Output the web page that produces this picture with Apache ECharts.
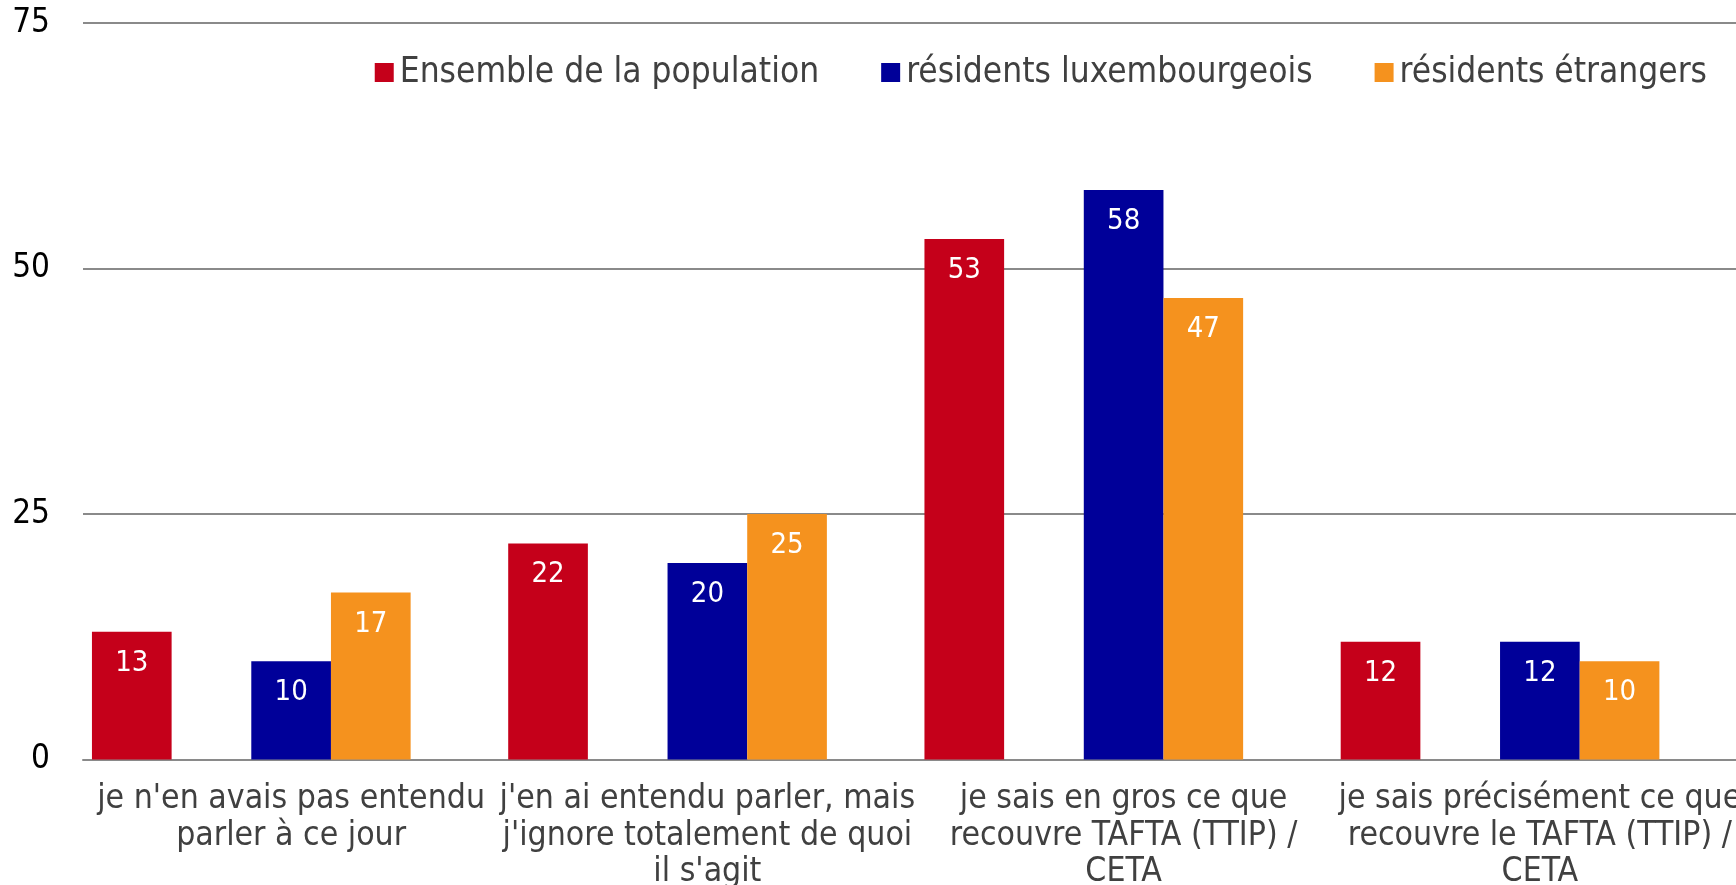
<!DOCTYPE html>
<html>
<head>
<meta charset="utf-8">
<script src="https://cdn.jsdelivr.net/npm/echarts@6/dist/echarts.min.js"></script>
<style>
html,body{margin:0;padding:0;background:#fff;}
#chart{width:1736px;height:885px;}
</style>
</head>
<body>
<div id="chart"></div>
<script>
const categories = [
  "je n'en avais pas entendu\nparler à ce jour",
  "j'en ai entendu parler, mais\nj'ignore totalement de quoi\nil s'agit",
  "je sais en gros ce que\nrecouvre TAFTA (TTIP) /\nCETA",
  "je sais précisément ce que\nrecouvre le TAFTA (TTIP) /\nCETA"
];
const seriesNames = ["Ensemble de la population", "résidents luxembourgeois", "résidents étrangers"];
const ensemble = [13, 22, 53, 12];
const luxembourgeois = [10, 20, 58, 12];
const etrangers = [17, 25, 47, 10];
const yTicks = [0, 25, 50, 75];

const FONT = "'DejaVu Sans Condensed', 'Noto Sans', sans-serif";
const colors = ['#C5001A', '#000099', '#F5921E'];

function barSeries(name, data, color) {
  return {
    name: name,
    type: 'bar',
    data: data,
    barGap: '0%',
    barCategoryGap: '4.3%',
    itemStyle: { color: color },
    label: {
      show: true,
      position: 'insideTop',
      distance: 17,
      color: '#fff',
      fontSize: 29,
      fontFamily: FONT
    }
  };
}
function spacer(name) {
  return {
    name: name,
    type: 'bar',
    data: categories.map(() => null),
    barGap: '0%',
    barCategoryGap: '4.3%',
    silent: true
  };
}

const chart = echarts.init(document.getElementById('chart'));
chart.setOption({
  animation: false,
  backgroundColor: '#fff',
  color: colors,
  grid: { left: 83, top: 23, width: 1665, height: 736.5, containLabel: false, outerBoundsMode: 'none' },
  legend: {
    data: seriesNames,
    right: 24,
    top: 50,
    itemWidth: 19,
    itemHeight: 19,
    itemGap: 62,
    icon: 'rect',
    textStyle: { fontFamily: FONT, fontSize: 35, color: '#404040', padding: [0, 0, 0, 1] }
  },
  xAxis: {
    type: 'category',
    data: categories,
    axisLine: { lineStyle: { color: '#8a8a8a', width: 2 } },
    axisTick: { show: false },
    axisLabel: {
      interval: 0,
      margin: 22,
      fontFamily: FONT,
      fontSize: 33.5,
      lineHeight: 36.5,
      color: '#404040',
      align: 'center'
    }
  },
  yAxis: {
    type: 'value',
    min: yTicks[0],
    max: yTicks[yTicks.length - 1],
    interval: 25,
    axisLine: { show: false },
    axisTick: { show: false },
    splitLine: { lineStyle: { color: '#8a8a8a', width: 2 } },
    axisLabel: {
      margin: 33,
      fontFamily: FONT,
      fontSize: 33,
      color: '#000'
    }
  },
  series: [
    barSeries(seriesNames[0], ensemble, colors[0]),
    spacer('spacer1'),
    barSeries(seriesNames[1], luxembourgeois, colors[1]),
    barSeries(seriesNames[2], etrangers, colors[2]),
    spacer('spacer2')
  ]
});
</script>
</body>
</html>
